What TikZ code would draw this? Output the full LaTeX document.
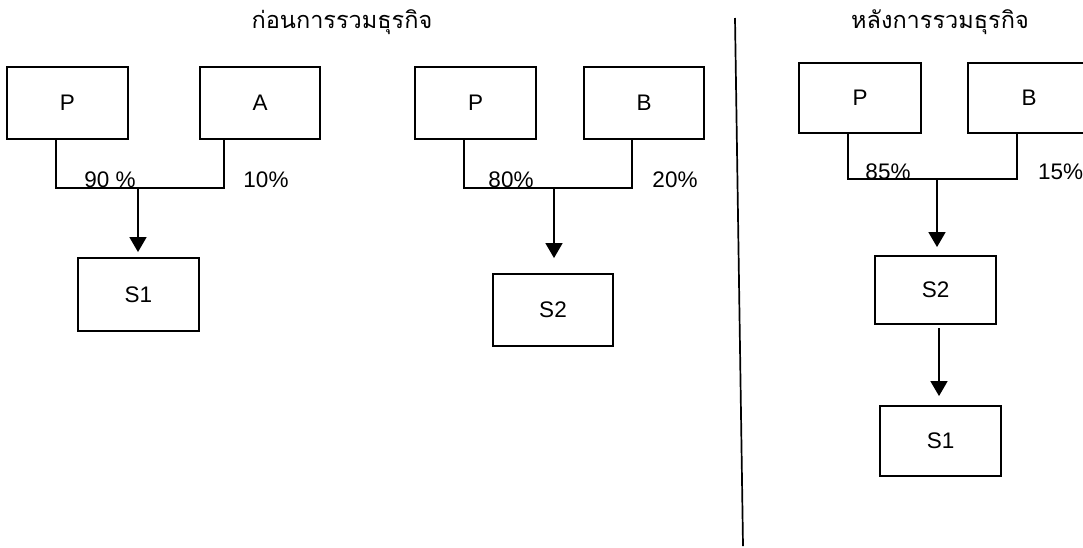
\documentclass[tikz,border=0pt]{standalone}
\usepackage{fontspec}
\setmainfont{Liberation Sans}
\newfontfamily\thaifont[Script=Thai]{Loma}
\usetikzlibrary{arrows.meta}
\begin{document}
\begin{tikzpicture}[x=1pt,y=-1pt,
  box/.style={draw,line width=1.9pt,inner sep=0pt,font=\fontsize{22.5}{26}\selectfont},
  conn/.style={line width=1.7pt},
  arr/.style={line width=1.7pt,-{Triangle[width=17pt,length=15pt]}},
  pct/.style={font=\fontsize{22.5}{26}\selectfont,inner sep=0pt},
  ttl/.style={font=\thaifont\fontsize{23.5}{27}\selectfont,inner sep=0pt}]
\clip (0,0) rectangle (1083,547);
\fill[white] (0,0) rectangle (1083,547);
% titles
\node[ttl] (t1) at (342,22) {ก่อนการรวมธุรกิจ};
\node[ttl] (t2) at (940,22) {หลังการรวมธุรกิจ};
% divider
\coordinate (dtop) at (735,18);
\coordinate (dbot) at (743,546);
\draw[line width=1.7pt] (dtop) -- (dbot);
% left panel
\node[box,minimum width=121pt,minimum height=72pt] (P1) at (67.5,103) {P};
\node[box,minimum width=120pt,minimum height=72pt] (A1) at (260,103) {A};
\node[box,minimum width=121pt,minimum height=73pt] (S1) at (138.5,294.5) {S1};
\coordinate (pd1) at (56,139);
\coordinate (ad1) at (224,139);
\coordinate (j1) at (138,188);
\draw[conn] (pd1) -- (pd1 |- j1) -- (ad1 |- j1) -- (ad1);
\draw[arr,shorten >=5pt] (j1) -- (j1 |- S1.north);
\node[pct] (l90) at (110,180) {90 \%};
\node[pct] (l10) at (266,180) {10\%};
% middle panel
\node[box,minimum width=121pt,minimum height=72pt] (P2) at (475.5,103) {P};
\node[box,minimum width=120pt,minimum height=72pt] (B2) at (644,103) {B};
\node[box,minimum width=120pt,minimum height=72pt] (S2) at (553,310) {S2};
\coordinate (pd2) at (464,139);
\coordinate (bd2) at (632,139);
\coordinate (j2) at (554,188);
\draw[conn] (pd2) -- (pd2 |- j2) -- (bd2 |- j2) -- (bd2);
\draw[arr,shorten >=15pt] (j2) -- (j2 |- S2.north);
\node[pct] (l80) at (511,180) {80\%};
\node[pct] (l20) at (675,180) {20\%};
% right panel
\node[box,minimum width=122pt,minimum height=70pt] (P3) at (860,98) {P};
\node[box,minimum width=122pt,minimum height=70pt] (B3) at (1029,98) {B};
\node[box,minimum width=121pt,minimum height=68pt] (S2r) at (935.5,290) {S2};
\node[box,minimum width=121pt,minimum height=70pt] (S1r) at (940.5,441) {S1};
\coordinate (pd3) at (848,133);
\coordinate (bd3) at (1017,133);
\coordinate (j3) at (937,179);
\draw[conn] (pd3) -- (pd3 |- j3) -- (bd3 |- j3) -- (bd3);
\draw[arr,shorten >=8pt] (j3) -- (j3 |- S2r.north);
\coordinate (s2b) at (939,328);
\draw[arr,shorten >=9pt] (s2b) -- (s2b |- S1r.north);
\node[pct] (l85) at (888,172) {85\%};
\node[pct,anchor=west] (l15) at (1038,172) {15\%};
\end{tikzpicture}
\end{document}
